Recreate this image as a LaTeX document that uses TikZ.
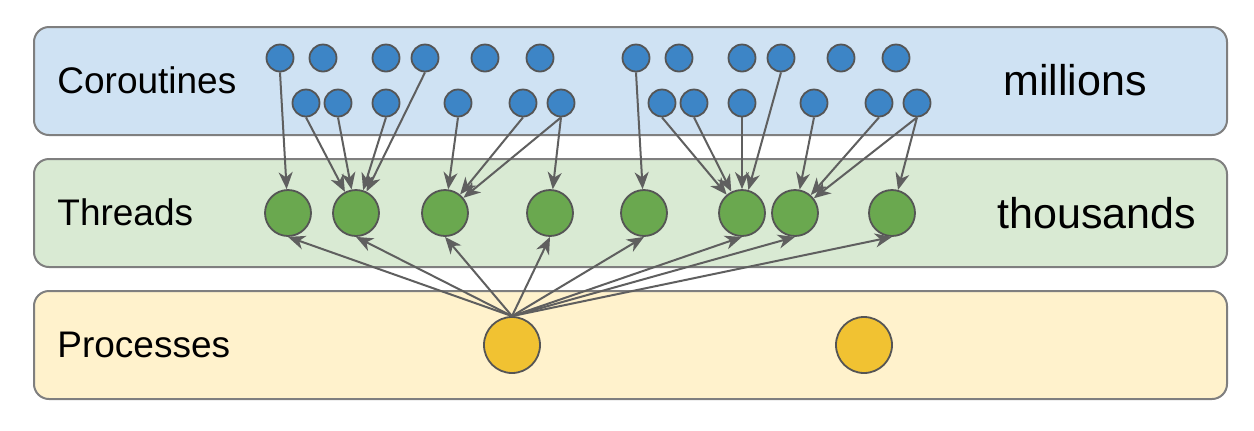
\documentclass[tikz,border=0pt]{standalone}
\usepackage{fontspec}
\setmainfont{Liberation Sans}
\usetikzlibrary{arrows.meta}

\definecolor{bandblue}{HTML}{CFE2F3}
\definecolor{bandgreen}{HTML}{D9EAD3}
\definecolor{bandyellow}{HTML}{FFF2CC}
\definecolor{bandline}{HTML}{7F7F7F}
\definecolor{corofill}{HTML}{3D85C6}
\definecolor{threadfill}{HTML}{6AA84F}
\definecolor{procfill}{HTML}{F1C232}
\definecolor{ringline}{HTML}{555555}
\definecolor{edgegray}{HTML}{5F5F5F}

\begin{document}
\begin{tikzpicture}[x=0.5pt,y=-0.5pt,
  band/.style={draw=bandline, line width=1pt, rounded corners=7.5pt,
    minimum width=596.5pt, minimum height=54pt, inner sep=0pt},
  layerlabel/.style={anchor=west, inner sep=0pt, font=\fontsize{18.5}{22}\selectfont},
  countlabel/.style={inner sep=0pt, font=\fontsize{21.5}{26}\selectfont},
  dot/.style={circle, draw=ringline, line width=0.9pt, inner sep=0pt},
  coro/.style={dot, fill=corofill, minimum size=13.5pt},
  thread/.style={dot, fill=threadfill, minimum size=23pt},
  proc/.style={dot, fill=procfill, minimum size=28pt},
  conn/.style={draw=edgegray, line width=1pt,
    -{Stealth[length=8.5pt,width=7pt,inset=2.6pt]}}]

\useasboundingbox (0,0) rectangle (1254,430);

% layer bands
\node[band, fill=bandblue]   (bandC) at (630.5,81)  {};
\node[band, fill=bandgreen]  (bandT) at (630.5,213) {};
\node[band, fill=bandyellow] (bandP) at (630.5,345) {};

% layer names and scales
\node[layerlabel] (lblC) at (57,80)  {Coroutines};
\node[layerlabel] (lblT) at (57,212) {Threads};
\node[layerlabel] (lblP) at (57,345) {Processes};
\node[countlabel] (numC) at (1075,80)  {millions};
\node[countlabel] (numT) at (1097,213) {thousands};

% coroutines, upper row
\foreach \x [count=\i] in {280,323,386,425,485,540,636,679,742,781,841,896}
  \node[coro] (ca\i) at (\x,58) {};
% coroutines, lower row
\foreach \x [count=\i] in {306,338,386,458,523,561,662,694,742,814,879,917}
  \node[coro] (cb\i) at (\x,103) {};

% threads
\foreach \x [count=\i] in {288,356,445,550,644,742,795,892}
  \node[thread] (t\i) at (\x,213) {};

% processes
\node[proc] (p1) at (512,345) {};
\node[proc] (p2) at (864,345) {};

% coroutines scheduled on threads
\draw[conn] (ca1.south)  -- (t1);
\draw[conn] (cb1.south)  -- (t2);
\draw[conn] (cb2.south)  -- (t2);
\draw[conn] (cb3.south)  -- (t2);
\draw[conn] (ca4.south)  -- (t2);
\draw[conn] (cb4.south)  -- (t3);
\draw[conn] (cb5.south)  -- (t3);
\draw[conn] (cb6.south)  -- (t3);
\draw[conn] (cb6.south)  -- (t4);
\draw[conn] (ca7.south)  -- (t5);
\draw[conn] (cb7.south)  -- (t6);
\draw[conn] (cb8.south)  -- (t6);
\draw[conn] (cb9.south)  -- (t6);
\draw[conn] (ca10.south) -- (t6);
\draw[conn] (cb10.south) -- (t7);
\draw[conn] (cb11.south) -- (t7);
\draw[conn] (cb12.south) -- (t7);
\draw[conn] (cb12.south) -- (t8);

% threads spawned by the first process
\foreach \i in {1,...,8}
  \draw[conn] (p1.north) -- (t\i.south);

\end{tikzpicture}
\end{document}
